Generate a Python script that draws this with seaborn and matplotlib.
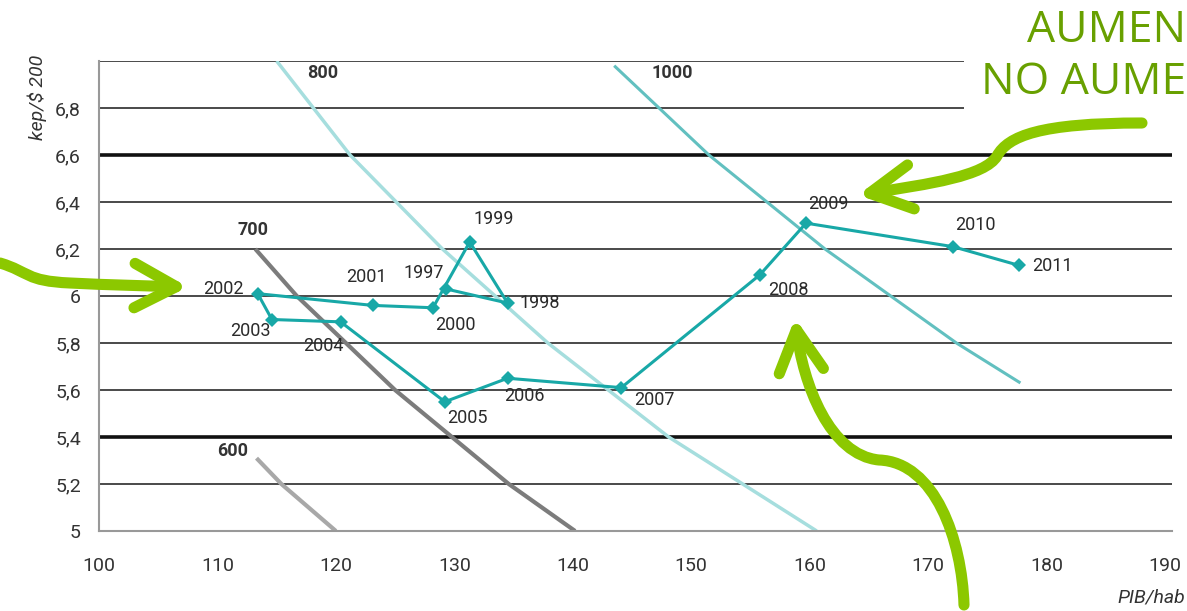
import matplotlib
matplotlib.use("Agg")
import matplotlib.pyplot as plt
import seaborn as sns
import pandas as pd
from matplotlib.patches import FancyArrowPatch, Rectangle
from matplotlib.path import Path
from matplotlib.transforms import IdentityTransform

# datos
years = ["1997", "1998", "1999", "2000", "2001", "2002", "2003", "2004",
         "2005", "2006", "2007", "2008", "2009", "2010", "2011"]
pib_hab = [129.3, 134.5, 131.3, 128.2, 123.1, 113.4, 114.6, 120.4,
           129.2, 134.5, 144.1, 155.8, 159.7, 172.1, 177.7]
kep_pib = [6.03, 5.97, 6.23, 5.95, 5.96, 6.01, 5.90, 5.89,
           5.55, 5.65, 5.61, 6.09, 6.31, 6.21, 6.13]
# posicion de la etiqueta de cada año (desplazamiento en pixeles)
label_off = [(-22, 16), (12, 0), (24, 23), (22, -17), (-6, 28), (-14, 5),
             (-22, -11), (-17, -24), (23, -16), (17, -18), (33, -12),
             (29, -15), (22, 19), (22, 22), (13, -1)]
label_ha = ["center", "left", "center", "center", "center", "right",
            "center", "center", "center", "center", "center", "center",
            "center", "center", "left"]

# curvas de igual consumo (kep/hab)
iso_labels = ["600", "700", "800", "1000"]
iso_x = [[113.3, 115.4, 120.0],
         [113.2, 116.7, 125.0, 134.6, 140.2],
         [115.0, 121.2, 129.0, 137.9, 148.1, 160.6],
         [143.5, 151.5, 161.3, 172.4, 177.8]]
iso_y = [[5.31, 5.2, 5.0],
         [6.2, 6.0, 5.6, 5.2, 5.0],
         [7.0, 6.6, 6.2, 5.8, 5.4, 5.0],
         [6.98, 6.6, 6.2, 5.8, 5.63]]
iso_colors = ["#a8a8a8", "#7c7c7c", "#a6dede", "#62c0c0"]
iso_lw = [3.0, 3.0, 2.5, 2.2]
iso_text_pos = [(111.3, 5.34), (113.0, 6.28), (118.9, 6.95), (148.4, 6.95)]

y_ticks = [5.0, 5.2, 5.4, 5.6, 5.8, 6.0, 6.2, 6.4, 6.6, 6.8]
y_ticklabels = ["5", "5,2", "5,4", "5,6", "5,8", "6", "6,2", "6,4", "6,6", "6,8"]
x_ticks = [100, 110, 120, 130, 140, 150, 160, 170, 180, 190]

sns.set_style("white")
plt.rcParams["font.family"] = ["Roboto", "DejaVu Sans"]

W, H = 1187, 611
fig = plt.figure(figsize=(W / 100, H / 100), dpi=100)
ax = fig.add_axes([99 / W, (H - 531) / H, (1172 - 99) / W, (531 - 61) / H])
ax.set_xlim(100, 190.6)
ax.set_ylim(5, 7)

# lineas horizontales
for yv in [5.2, 5.6, 5.8, 6.0, 6.2, 6.4, 6.8, 7.0]:
    ax.axhline(yv, color="#3c3c3c", lw=1.3, zorder=1)
for yv in [5.4, 6.6]:
    ax.axhline(yv, color="#111111", lw=2.6, zorder=1)

for lab, xs, ys, c, lw, tp in zip(iso_labels, iso_x, iso_y, iso_colors, iso_lw, iso_text_pos):
    ax.plot(xs, ys, color=c, lw=lw, zorder=2, solid_capstyle="butt")
    ax.text(tp[0], tp[1], lab, fontsize=13, fontweight="bold", color="#333333",
            ha="center", va="center", zorder=3)

df = pd.DataFrame({"year": years, "pib": pib_hab, "kep": kep_pib})
sns.lineplot(data=df, x="pib", y="kep", sort=False, estimator=None, ax=ax,
             color="#18a8a7", lw=2.2, marker="D", markersize=7,
             markeredgewidth=0, zorder=4)

for yr, xv, yv, off, ha in zip(years, pib_hab, kep_pib, label_off, label_ha):
    ax.annotate(yr, (xv, yv), xytext=off, textcoords="offset pixels",
                ha=ha, va="center", fontsize=13, color="#2a2a2a", zorder=5)

ax.set_yticks(y_ticks)
ax.set_yticklabels(y_ticklabels)
ax.set_xticks(x_ticks)
ax.tick_params(length=0, labelsize=14, colors="#333333")
ax.tick_params(axis="y", pad=13)
ax.tick_params(axis="x", pad=19)
ax.set_xlabel("")
ax.set_ylabel("")
for s in ["top", "right"]:
    ax.spines[s].set_visible(False)
for s in ["left", "bottom"]:
    ax.spines[s].set_color("#999999")
    ax.spines[s].set_linewidth(1.5)

fig.text(1151 / W, 1 - 598 / H, "PIB/hab", fontsize=14, style="italic",
         color="#333333", ha="center", va="center")
fig.text(37 / W, 1 - 97 / H, "kep/$ 200", fontsize=14, style="italic",
         color="#333333", ha="center", va="center", rotation=90)

# recuadro blanco y texto verde arriba a la derecha
fig.patches.append(Rectangle((964, H - 118), 240, 130, transform=IdentityTransform(),
                             facecolor="white", edgecolor="none", zorder=6))
fig.text(1186 / W, 1 - 31 / H, "AUMEN", fontsize=32, color="#68a000",
         family=["Open Sans", "DejaVu Sans"], ha="right", va="center", zorder=7)
fig.text(1186 / W, 1 - 83 / H, "NO AUME", fontsize=32, color="#68a000",
         family=["Open Sans", "DejaVu Sans"], ha="right", va="center", zorder=7)

# flechas verdes
green = "#8cc800"
arrow_paths = [
    [(0, 263), (30, 272), (25, 281), (70, 283), (110, 285), (150, 286), (188, 287)],
    [(1142, 123), (1040, 123), (1008, 136), (997, 156),
     (985, 176), (930, 184), (858, 195)],
    [(964, 605), (962, 540), (935, 462), (879, 460),
     (830, 455), (803, 385), (795, 318)],
]
arrow_codes = [
    [Path.MOVETO, Path.CURVE4, Path.CURVE4, Path.CURVE4, Path.CURVE4, Path.CURVE4, Path.CURVE4],
    [Path.MOVETO, Path.CURVE4, Path.CURVE4, Path.CURVE4, Path.CURVE4, Path.CURVE4, Path.CURVE4],
    [Path.MOVETO, Path.CURVE4, Path.CURVE4, Path.CURVE4, Path.CURVE4, Path.CURVE4, Path.CURVE4],
]
for pts, codes in zip(arrow_paths, arrow_codes):
    p = Path([(px, H - py) for px, py in pts], codes)
    arr = FancyArrowPatch(path=p, arrowstyle="->,head_length=30,head_width=16",
                          color=green, lw=8, capstyle="round", joinstyle="round",
                          transform=IdentityTransform(), zorder=8)
    fig.patches.append(arr)

fig.savefig("out.png", dpi=100)
